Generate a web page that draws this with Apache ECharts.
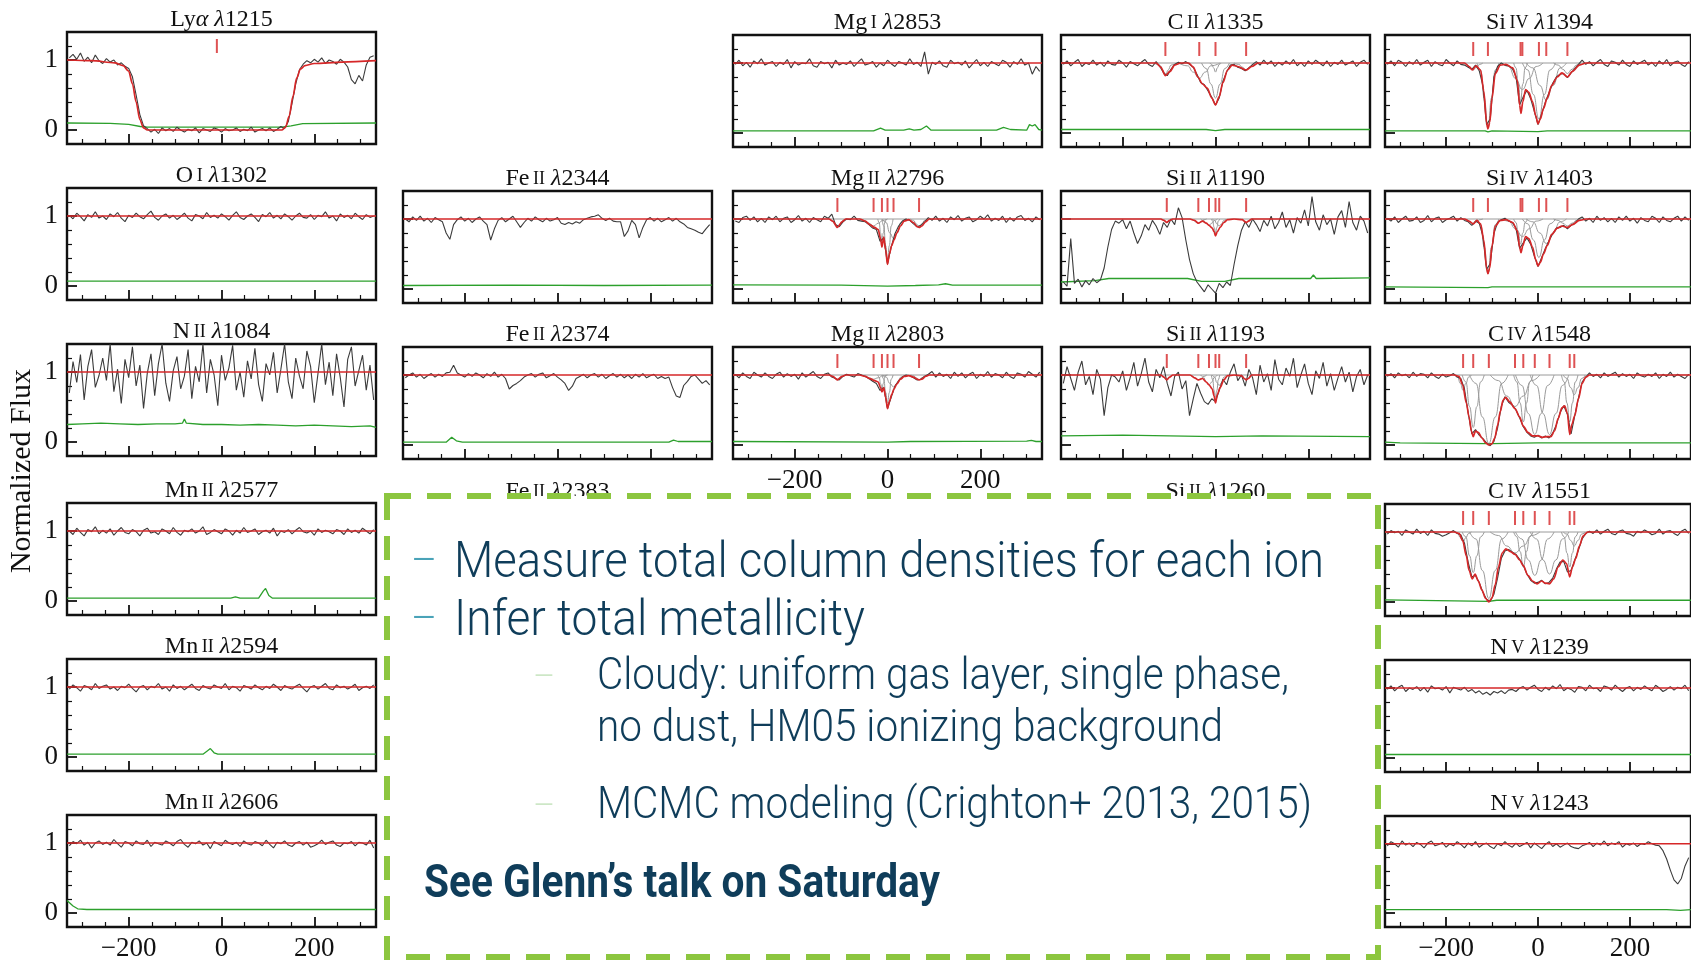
<!DOCTYPE html>
<html>
<head>
<meta charset="utf-8">
<script src="https://cdn.jsdelivr.net/npm/echarts@6/dist/echarts.min.js"></script>
<style>
  html, body { margin: 0; padding: 0; background: #fff; }
  #chart { width: 1691px; height: 962px; }
</style>
</head>
<body>
<div id="chart"></div>
<script>
// Flux samples are stored as normalized flux x 100 on a uniform velocity grid (km/s)
const VEL_START = -328, VEL_STEP = 8;
const V_MIN = -333, V_MAX = 333;
const FLAT = [[-333, 1], [333, 1]];

// ---------- Ly alpha 1215
const lyaFlux = [
  103,108,101,110,98,104,96,107,99,95,
  102,97,100,93,96,91,88,76,50,22,
  6,2,-3,1,-5,3,-1,2,-2,4,
  0,-3,1,-1,3,-4,2,0,-2,3,
  1,-3,2,-1,0,3,-2,1,-1,4,
  -3,0,2,-1,3,-2,1,5,2,12,
  38,66,86,94,99,96,101,97,103,95,
  100,98,94,101,97,90,72,66,78,70,
  93,104,106];
const lyaModel = [[-333,1.0],[-280,0.99],[-230,0.96],[-212,0.92],[-200,0.84],[-192,0.66],[-184,0.4],[-176,0.15],[-168,0.03],[-160,0],[130,0],[138,0.04],[146,0.2],[154,0.48],[162,0.74],[170,0.87],[180,0.92],[200,0.95],[260,0.97],[333,0.99]];
const lyaErr = [[-333,0.1],[-240,0.095],[-200,0.08],[-175,0.05],[-160,0.04],[130,0.04],[150,0.06],[175,0.09],[333,0.1]];
const lyaTicks = [-10];

// ---------- O I 1302
const o1Flux = [
  101,96,104,99,93,102,98,106,97,100,
  95,103,99,105,97,92,101,98,104,99,
  96,102,107,98,94,100,103,97,101,95,
  99,104,97,93,102,100,96,105,98,101,
  97,103,99,94,101,106,98,95,100,103,
  98,92,102,99,105,97,101,96,103,99,
  94,100,104,98,97,102,95,101,99,106,
  97,100,93,103,98,101,96,104,99,95,
  102,98,100];
const o1Err = [[-333,0.07],[0,0.07],[333,0.07]];

// ---------- N II 1084
const n2Flux = [
  70,115,85,125,60,108,132,78,95,120,
  88,140,72,104,55,118,92,136,80,110,
  48,98,126,66,112,140,84,58,102,122,
  76,94,132,62,108,86,140,70,118,96,
  52,124,88,106,138,74,100,64,116,90,
  134,82,58,112,96,128,70,104,140,86,
  62,120,94,76,130,108,56,98,140,82,
  114,66,126,92,50,118,136,80,102,124,
  74,110,60];
const n2Err = [[-333,0.25],[-300,0.26],[-260,0.27],[-220,0.26],[-180,0.25],[-140,0.26],[-100,0.26],[-84,0.27],[-80,0.33],[-76,0.27],[-40,0.25],[0,0.25],[40,0.24],[80,0.25],[120,0.24],[160,0.23],[200,0.24],[240,0.23],[280,0.22],[320,0.23],[333,0.21]];

// ---------- Mn II 2577 / 2594 / 2606
const mn2577Flux = [
  100,95,104,98,93,102,99,106,96,101,
  97,103,94,100,105,98,96,102,99,93,
  101,104,97,99,95,103,100,96,105,98,
  94,101,99,103,97,100,106,95,98,102,
  99,96,103,100,94,101,97,105,98,100,
  103,95,99,101,97,104,93,100,98,102,
  96,101,105,99,97,100,94,103,98,101,
  99,96,102,100,95,103,98,101,97,104,
  100,96,102];
const mn2577Err = [[-333,0.04],[20,0.04],[30,0.06],[40,0.04],[80,0.04],[90,0.14],[95,0.18],[102,0.08],[110,0.04],[333,0.04]];

const mn2594Flux = [
  97,103,99,94,102,100,96,105,98,101,
  103,97,100,95,101,99,104,98,93,100,
  102,96,101,99,105,97,100,94,103,98,
  101,96,100,104,98,95,102,99,97,103,
  100,98,105,96,101,99,94,102,100,97,
  103,99,96,101,98,104,100,95,102,99,
  97,101,104,98,93,100,102,97,101,105,
  98,96,103,99,101,97,100,104,95,99,
  101,98,103];
const mn2594Err = [[-333,0.04],[-40,0.04],[-30,0.09],[-24,0.12],[-16,0.06],[-8,0.04],[333,0.04]];

const mn2606Flux = [
  96,102,99,104,97,101,93,100,103,98,
  101,97,105,99,94,102,100,96,103,99,
  98,104,95,101,99,97,103,100,96,102,
  105,98,94,101,99,103,97,100,92,102,
  99,96,104,100,98,101,95,103,99,97,
  102,100,96,104,98,93,101,99,103,97,
  95,100,102,97,101,94,96,99,104,98,
  101,103,97,95,100,99,102,96,101,100,
  97,104,93];
const mn2606Err = [[-333,0.18],[-320,0.1],[-310,0.06],[-290,0.05],[333,0.05]];

// ---------- Fe II 2344 / 2374
const fe2344Flux = [
  100,96,103,98,104,97,101,95,102,99,
  96,80,71,92,99,103,97,101,95,100,
  103,97,92,70,86,98,102,96,100,104,
  96,88,95,101,97,103,99,96,101,97,
  99,102,94,92,95,93,96,94,99,101,
  103,104,106,101,98,101,97,96,96,75,
  83,98,92,73,88,99,102,97,101,96,
  99,102,97,101,96,93,88,86,84,81,
  79,86,92];
const fe2344Err = [[-333,0.05],[-100,0.055],[100,0.05],[333,0.055]];

const fe2374Flux = [
  96,100,103,97,101,95,99,102,97,101,
  98,103,104,114,103,100,97,102,98,103,
  100,96,102,98,104,97,101,95,80,85,
  88,92,97,100,102,97,101,103,96,99,
  102,97,93,88,78,84,95,98,101,96,
  100,102,97,101,95,99,102,97,101,96,
  100,95,101,97,102,96,99,101,95,98,
  95,97,82,70,68,85,91,98,100,94,
  88,92,86];
const fe2374Err = [[-333,0.04],[-240,0.04],[-228,0.11],[-218,0.06],[-205,0.04],[240,0.04],[250,0.07],[260,0.05],[333,0.05]];

// ---------- Mg I 2853
const mg2853Flux = [
  98,104,96,101,94,103,99,106,97,100,
  102,95,101,98,105,93,102,97,100,99,
  106,96,94,102,99,101,93,104,97,100,
  98,103,95,101,106,97,99,102,94,100,
  96,104,99,95,102,100,97,106,98,101,
  95,116,84,101,98,103,96,94,104,99,
  101,97,103,93,99,105,96,101,95,102,
  99,96,104,101,94,102,98,106,97,100,
  84,95,88];
const mg2853Err = [[-333,0.03],[-30,0.03],[-15,0.07],[-5,0.04],[35,0.04],[47,0.06],[57,0.04],[72,0.05],[84,0.1],[94,0.04],[235,0.04],[250,0.08],[265,0.05],[300,0.04],[306,0.12],[312,0.1],[318,0.12],[326,0.05],[333,0.04]];

// ---------- Mg II 2796 / 2803
const mg2796Flux = [
  97,95,102,104,98,103,96,101,95,103,
  99,104,96,101,103,95,99,105,97,101,
  95,102,99,96,104,101,107,92,89,96,
  100,99,104,98,97,96,92,87,85,68,
  73,36,60,79,90,97,100,98,93,89,
  91,96,102,98,104,97,101,95,103,99,
  105,97,101,103,96,99,104,100,106,97,
  101,98,104,95,102,97,103,105,98,101,
  96,103,99];
const mg2796Model = [[-333,1],[-126,1],[-118,0.97],[-108,0.88],[-98,0.96],[-90,1],[-60,1],[-48,0.97],[-38,0.92],[-28,0.88],[-20,0.85],[-15,0.72],[-12,0.6],[-8,0.74],[-4,0.56],[0,0.35],[4,0.5],[9,0.62],[14,0.7],[20,0.8],[28,0.9],[36,0.97],[46,0.99],[56,0.95],[64,0.89],[68,0.88],[74,0.9],[82,0.96],[90,1],[333,1]];
const mg2796Err = [[-333,0.06],[-100,0.055],[0,0.04],[60,0.05],[110,0.06],[125,0.075],[140,0.055],[333,0.055]];
const mg2796Comps = [
  [[-126,1],[-120,0.98],[-114,0.93],[-108,0.89],[-102,0.93],[-96,0.98],[-90,1]],
  [[-60,1],[-50,0.98],[-40,0.94],[-30,0.9],[-20,0.94],[-10,0.98],[0,1]],
  [[-21,1],[-18,0.95],[-15,0.8],[-12,0.68],[-9,0.8],[-6,0.95],[-3,1]],
  [[-12,1],[-8,0.9],[-4,0.62],[0,0.42],[4,0.62],[8,0.9],[12,1]],
  [[-11,1],[-3,0.95],[5,0.8],[13,0.72],[21,0.8],[29,0.95],[37,1]],
  [[50,1],[56,0.98],[62,0.93],[68,0.89],[74,0.93],[80,0.98],[86,1]]];
const mg2Ticks = [-108, -30, -12, 0, 13, 68];

const mg2803Flux = [
  101,96,103,98,95,104,100,97,103,98,
  95,101,104,97,102,98,101,94,103,97,
  101,105,98,95,101,103,97,95,93,98,
  101,99,97,102,100,98,95,91,88,78,
  82,52,68,84,92,97,100,99,96,93,
  94,98,101,105,97,103,98,101,95,104,
  98,103,96,101,104,95,101,98,105,97,
  102,100,96,104,98,95,103,101,97,105,
  101,97,104];
const mg2803Model = [[-333,1],[-126,1],[-118,0.98],[-108,0.93],[-98,0.98],[-90,1],[-60,1],[-48,0.98],[-38,0.95],[-28,0.92],[-20,0.9],[-15,0.82],[-12,0.76],[-8,0.82],[-4,0.68],[0,0.52],[4,0.62],[9,0.72],[14,0.8],[20,0.87],[28,0.94],[36,0.98],[46,0.99],[56,0.97],[64,0.94],[68,0.93],[74,0.94],[82,0.98],[90,1],[333,1]];
const mg2803Err = [[-333,0.05],[0,0.04],[50,0.05],[300,0.055],[310,0.065],[320,0.05],[333,0.05]];
const mg2803Comps = [
  [[-126,1],[-120,0.99],[-114,0.96],[-108,0.93],[-102,0.96],[-96,0.99],[-90,1]],
  [[-60,1],[-50,0.99],[-40,0.96],[-30,0.94],[-20,0.96],[-10,0.99],[0,1]],
  [[-21,1],[-18,0.97],[-15,0.88],[-12,0.8],[-9,0.88],[-6,0.97],[-3,1]],
  [[-12,1],[-8,0.94],[-4,0.75],[0,0.6],[4,0.75],[8,0.94],[12,1]],
  [[-11,1],[-3,0.97],[5,0.88],[13,0.83],[21,0.88],[29,0.97],[37,1]],
  [[50,1],[56,0.99],[62,0.96],[68,0.93],[74,0.96],[80,0.99],[86,1]]];

// ---------- C II 1335
const c2Flux = [
  98,103,96,101,105,95,100,98,104,97,
  101,95,103,98,97,104,100,94,102,99,
  96,101,105,98,95,102,95,86,82,91,
  98,101,99,102,98,94,84,72,69,60,
  51,40,50,74,87,97,98,94,92,89,
  93,98,102,97,104,98,103,95,101,97,
  103,98,105,96,101,95,103,98,104,100,
  96,103,95,101,98,104,97,100,103,95,
  101,104,98];
const c2Model = [[-333,1],[-128,1],[-118,0.94],[-108,0.82],[-98,0.88],[-88,0.97],[-75,1],[-58,1],[-48,0.94],[-38,0.8],[-28,0.7],[-18,0.64],[-8,0.5],[0,0.4],[8,0.52],[16,0.72],[26,0.9],[36,0.97],[48,0.95],[66,0.9],[78,0.95],[92,1],[333,1]];
const c2Err = [[-333,0.05],[-20,0.05],[0,0.035],[20,0.05],[333,0.05]];
const c2Comps = [
  [[-132,1],[-120,0.97],[-114,0.9],[-108,0.82],[-102,0.9],[-96,0.97],[-84,1]],
  [[-80,1],[-60,0.96],[-48,0.87],[-35,0.78],[-22,0.87],[-10,0.96],[10,1]],
  [[-12,1],[-8,0.98],[-4,0.93],[0,0.87],[4,0.93],[8,0.98],[12,1]],
  [[-30,1],[-20,0.92],[-10,0.7],[0,0.5],[10,0.7],[20,0.92],[30,1]],
  [[40,1],[50,0.98],[58,0.94],[66,0.9],[74,0.94],[82,0.98],[92,1]]];
const c2Ticks = [-108, -35, 0, 66];

// ---------- Si II 1190 / 1193
const si1190Flux = [
  10,4,72,8,14,3,12,6,15,9,
  13,30,60,85,97,94,99,86,97,80,
  65,76,92,84,98,90,78,95,88,100,
  92,116,102,70,42,22,10,3,-4,6,
  0,-6,8,2,10,5,35,62,84,96,
  88,100,92,82,98,90,104,86,95,110,
  88,99,80,102,94,113,90,132,96,84,
  106,92,100,78,103,112,88,125,95,84,
  104,97,80];
const si1190Model = [[-333,1],[-118,1],[-111,0.98],[-105,0.95],[-99,0.98],[-92,1],[-55,1],[-45,0.98],[-37,0.94],[-28,0.97],[-20,0.94],[-14,0.91],[-7,0.87],[-3,0.82],[0,0.76],[4,0.82],[10,0.88],[18,0.95],[26,0.99],[40,1],[58,0.99],[62,0.97],[66,0.95],[71,0.97],[78,1],[333,1]];
const si1190Err = [[-333,0.1],[-260,0.12],[-230,0.15],[-60,0.15],[-30,0.11],[20,0.11],[50,0.15],[205,0.15],[211,0.2],[217,0.15],[333,0.16]];
const si1190Comps = [
  [[-117,1],[-113,0.99],[-109,0.97],[-105,0.95],[-101,0.97],[-97,0.99],[-93,1]],
  [[-55,1],[-49,0.99],[-43,0.96],[-37,0.94],[-31,0.96],[-25,0.99],[-19,1]],
  [[-32,1],[-26,0.98],[-20,0.94],[-14,0.91],[-8,0.94],[-2,0.98],[4,1]],
  [[-9,1],[-6,0.97],[-3,0.88],[0,0.8],[3,0.88],[6,0.97],[9,1]],
  [[-7,1],[-2,0.98],[3,0.93],[8,0.9],[13,0.93],[18,0.98],[23,1]],
  [[54,1],[58,0.99],[62,0.97],[66,0.95],[70,0.97],[74,0.99],[78,1]]];
const si2Ticks = [-105, -37, -14, 0, 8, 66];

const si1193Flux = [
  88,112,95,78,104,120,86,98,72,108,
  94,42,82,100,97,90,106,78,96,118,
  84,102,124,90,76,108,96,112,88,70,
  98,104,80,92,42,66,88,74,62,58,
  66,62,78,94,86,104,116,92,100,84,
  108,96,72,114,90,102,78,122,94,86,
  110,98,124,82,100,116,88,72,106,95,
  118,84,102,78,96,112,90,104,76,98,
  108,86,100];
const si1193Model = [[-333,1],[-118,1],[-111,0.97],[-105,0.93],[-99,0.97],[-92,1],[-55,1],[-45,0.96],[-37,0.93],[-28,0.95],[-20,0.9],[-14,0.86],[-7,0.8],[-3,0.7],[0,0.6],[4,0.72],[10,0.82],[18,0.93],[26,0.99],[40,1],[56,0.99],[62,0.95],[66,0.93],[71,0.95],[78,1],[333,1]];
const si1193Err = [[-333,0.13],[-200,0.14],[-100,0.13],[0,0.12],[100,0.13],[333,0.12]];
const si1193Comps = [
  [[-117,1],[-113,0.98],[-109,0.95],[-105,0.93],[-101,0.95],[-97,0.98],[-93,1]],
  [[-55,1],[-49,0.98],[-43,0.95],[-37,0.93],[-31,0.95],[-25,0.98],[-19,1]],
  [[-32,1],[-26,0.97],[-20,0.9],[-14,0.86],[-8,0.9],[-2,0.97],[4,1]],
  [[-9,1],[-6,0.93],[-3,0.78],[0,0.68],[3,0.78],[6,0.93],[9,1]],
  [[-7,1],[-2,0.97],[3,0.89],[8,0.85],[13,0.89],[18,0.97],[23,1]],
  [[54,1],[58,0.98],[62,0.95],[66,0.93],[70,0.95],[74,0.98],[78,1]]];

// ---------- Si IV 1394 / 1403
const si1394Flux = [
  98,103,96,104,101,95,102,98,105,97,
  101,104,95,102,98,96,105,100,96,103,
  98,97,94,91,97,89,68,12,20,80,
  95,100,97,96,92,81,40,52,61,49,
  31,12,27,44,58,71,80,84,85,79,
  86,92,98,104,98,102,96,101,105,98,
  95,103,101,97,104,98,95,103,98,101,
  104,97,101,95,103,98,105,96,101,103,
  98,95,102];
const si1394Model = [[-333,1],[-160,1],[-150,0.95],[-143,0.9],[-135,0.96],[-125,0.9],[-118,0.6],[-112,0.15],[-109,0.06],[-105,0.15],[-100,0.5],[-93,0.85],[-82,0.97],[-70,0.98],[-55,0.93],[-45,0.75],[-40,0.4],[-37,0.28],[-33,0.45],[-27,0.62],[-20,0.58],[-12,0.45],[-5,0.25],[0,0.13],[5,0.2],[12,0.35],[20,0.5],[30,0.68],[42,0.8],[52,0.86],[64,0.8],[75,0.88],[90,0.97],[105,1],[333,1]];
const si1394Err = [[-333,0.03],[-115,0.03],[-109,0.015],[-100,0.03],[0,0.02],[20,0.03],[333,0.03]];
const si1394Comps = [
  [[-162,1],[-155,0.98],[-148,0.94],[-141,0.9],[-134,0.94],[-127,0.98],[-120,1]],
  [[-133,1],[-125,0.9],[-117,0.5],[-109,0.07],[-101,0.5],[-93,0.9],[-85,1]],
  [[-53,1],[-48,0.93],[-43,0.7],[-38,0.45],[-33,0.7],[-28,0.93],[-23,1]],
  [[-79,1],[-64,0.95],[-49,0.78],[-34,0.62],[-19,0.78],[-4,0.95],[11,1]],
  [[-34,1],[-22,0.9],[-10,0.55],[2,0.2],[14,0.55],[26,0.9],[38,1]],
  [[-26,1],[-11,0.93],[4,0.68],[18,0.47],[33,0.68],[48,0.93],[62,1]],
  [[34,1],[44,0.97],[54,0.91],[64,0.85],[74,0.91],[84,0.97],[94,1]]];
const si4Ticks = [-141, -109, -38, -34, 2, 18, 64];

const si1403Flux = [
  101,97,103,95,100,104,97,98,103,95,
  98,105,96,101,103,95,99,101,104,97,
  102,98,96,91,97,94,76,28,36,79,
  95,99,101,97,95,87,58,66,73,64,
  47,32,45,58,69,79,87,88,91,86,
  91,94,100,103,97,101,95,104,98,102,
  96,101,95,103,98,104,97,101,94,102,
  98,96,104,101,95,103,98,96,101,104,
  97,103,98];
const si1403Model = [[-333,1],[-160,1],[-150,0.97],[-141,0.93],[-133,0.98],[-125,0.93],[-118,0.7],[-112,0.3],[-109,0.22],[-105,0.3],[-100,0.62],[-93,0.9],[-82,0.98],[-70,0.99],[-55,0.95],[-45,0.83],[-40,0.6],[-37,0.52],[-33,0.62],[-27,0.75],[-20,0.72],[-12,0.6],[-5,0.42],[0,0.33],[5,0.38],[12,0.5],[20,0.62],[30,0.78],[42,0.87],[52,0.9],[64,0.88],[75,0.92],[90,0.98],[105,1],[333,1]];
const si1403Err = [[-333,0.03],[-109,0.02],[-100,0.03],[333,0.03]];
const si1403Comps = [
  [[-162,1],[-155,0.99],[-148,0.96],[-141,0.93],[-134,0.96],[-127,0.99],[-120,1]],
  [[-133,1],[-125,0.92],[-117,0.6],[-109,0.22],[-101,0.6],[-93,0.92],[-85,1]],
  [[-53,1],[-48,0.95],[-43,0.8],[-38,0.64],[-33,0.8],[-28,0.95],[-23,1]],
  [[-79,1],[-64,0.97],[-49,0.86],[-34,0.75],[-19,0.86],[-4,0.97],[11,1]],
  [[-34,1],[-22,0.93],[-10,0.7],[2,0.45],[14,0.7],[26,0.93],[38,1]],
  [[-26,1],[-11,0.96],[4,0.8],[18,0.65],[33,0.8],[48,0.96],[62,1]],
  [[34,1],[44,0.98],[54,0.94],[64,0.9],[74,0.94],[84,0.98],[94,1]]];

// ---------- C IV 1548 / 1551
const c1548Flux = [
  98,102,96,103,99,101,96,104,98,102,
  101,96,103,98,95,101,97,99,102,97,
  95,80,46,16,22,14,9,3,-1,5,
  24,55,69,61,57,50,39,26,18,13,
  11,14,10,13,10,17,29,46,56,44,
  16,42,67,90,97,103,98,101,96,103,
  98,101,104,97,102,98,101,95,103,99,
  97,101,98,103,95,101,98,104,97,101,
  98,95,101];
const c1548Model = [[-333,1],[-182,1],[-172,0.98],[-164,0.86],[-156,0.6],[-150,0.4],[-145,0.2],[-141,0.12],[-136,0.2],[-130,0.18],[-122,0.1],[-114,0.03],[-107,0.0],[-100,0.02],[-94,0.1],[-88,0.28],[-82,0.48],[-76,0.64],[-70,0.68],[-62,0.62],[-50,0.52],[-40,0.4],[-32,0.27],[-22,0.18],[-12,0.13],[0,0.13],[10,0.11],[20,0.12],[28,0.12],[36,0.2],[44,0.38],[52,0.53],[58,0.56],[64,0.45],[69,0.15],[74,0.3],[80,0.42],[88,0.66],[96,0.88],[104,0.97],[112,1],[333,1]];
const c1548Err = [[-333,0.04],[-300,0.03],[-110,0.02],[-100,0.02],[0,0.03],[333,0.03]];
const c1548Comps = [
  [[-181,1],[-175,0.97],[-169,0.88],[-163,0.78],[-157,0.88],[-151,0.97],[-145,1]],
  [[-165,1],[-157,0.9],[-149,0.55],[-141,0.25],[-133,0.55],[-125,0.9],[-117,1]],
  [[-149,1],[-135,0.88],[-121,0.4],[-107,0.02],[-93,0.4],[-79,0.88],[-65,1]],
  [[-104,1],[-86,0.92],[-68,0.7],[-50,0.55],[-32,0.7],[-14,0.92],[4,1]],
  [[-53,1],[-46,0.9],[-39,0.6],[-32,0.33],[-25,0.6],[-18,0.9],[-11,1]],
  [[-49,1],[-35,0.85],[-21,0.45],[-7,0.15],[7,0.45],[21,0.85],[35,1]],
  [[-17,1],[-3,0.85],[11,0.45],[25,0.15],[39,0.45],[53,0.85],[67,1]],
  [[51,1],[57,0.9],[63,0.6],[69,0.33],[75,0.6],[81,0.9],[87,1]],
  [[55,1],[63,0.95],[71,0.82],[79,0.72],[87,0.82],[95,0.95],[103,1]]];
const c4Ticks = [-163, -141, -107, -50, -32, -7, 25, 69, 79];

const c1551Flux = [
  97,102,99,101,95,103,100,97,104,98,
  101,95,103,98,97,94,96,99,102,98,
  96,84,57,36,38,28,14,4,1,11,
  34,62,73,75,71,68,61,52,40,31,
  27,28,31,26,28,34,47,57,58,43,
  45,60,74,90,98,101,98,103,97,101,
  104,98,96,101,103,98,97,94,101,99,
  103,100,96,98,104,97,101,102,98,95,
  101,104,98];
const c1551Model = [[-333,1],[-182,1],[-172,0.98],[-164,0.88],[-156,0.66],[-150,0.45],[-143,0.33],[-137,0.4],[-130,0.3],[-122,0.17],[-114,0.05],[-107,0.0],[-100,0.06],[-93,0.25],[-86,0.5],[-78,0.7],[-70,0.76],[-60,0.72],[-50,0.68],[-40,0.6],[-32,0.52],[-22,0.38],[-12,0.3],[-2,0.26],[8,0.3],[16,0.27],[25,0.26],[34,0.33],[44,0.5],[54,0.6],[62,0.55],[69,0.36],[75,0.5],[82,0.62],[90,0.8],[98,0.94],[108,1],[333,1]];
const c1551Err = [[-333,0.03],[-107,0.01],[-90,0.025],[333,0.025]];
const c1551Comps = [
  [[-181,1],[-175,0.98],[-169,0.92],[-163,0.86],[-157,0.92],[-151,0.98],[-145,1]],
  [[-165,1],[-157,0.93],[-149,0.66],[-141,0.42],[-133,0.66],[-125,0.93],[-117,1]],
  [[-149,1],[-135,0.9],[-121,0.45],[-107,0.05],[-93,0.45],[-79,0.9],[-65,1]],
  [[-104,1],[-86,0.95],[-68,0.8],[-50,0.7],[-32,0.8],[-14,0.95],[4,1]],
  [[-53,1],[-46,0.93],[-39,0.72],[-32,0.5],[-25,0.72],[-18,0.93],[-11,1]],
  [[-49,1],[-35,0.9],[-21,0.6],[-7,0.38],[7,0.6],[21,0.9],[35,1]],
  [[-17,1],[-3,0.9],[11,0.6],[25,0.4],[39,0.6],[53,0.9],[67,1]],
  [[51,1],[57,0.93],[63,0.7],[69,0.5],[75,0.7],[81,0.93],[87,1]],
  [[55,1],[63,0.97],[71,0.88],[79,0.8],[87,0.88],[95,0.97],[103,1]]];

// ---------- N V 1239 / 1243
const n1239Flux = [
  98,103,96,101,104,95,100,98,102,96,
  101,94,103,99,100,97,102,93,101,99,
  97,101,95,98,93,96,91,94,90,95,
  93,96,92,97,98,95,100,102,97,101,
  104,98,95,101,97,103,99,105,96,100,
  98,94,102,101,96,104,99,100,95,103,
  101,97,104,99,95,100,102,96,101,98,
  103,99,96,104,100,95,98,102,97,101,
  99,104,96];
const n1239Err = [[-333,0.05],[333,0.05]];

const n1243Flux = [
  97,103,100,95,104,98,101,96,102,99,
  94,101,104,97,99,102,95,100,97,103,
  99,94,101,97,103,95,99,101,96,93,
  100,97,103,98,95,101,96,99,102,94,
  101,97,93,99,103,96,100,95,98,101,
  96,94,93,97,99,102,96,101,98,104,
  97,101,99,103,95,100,98,101,96,100,
  99,103,100,98,97,90,78,62,48,42,
  50,68,80];
const n1243Err = [[-333,0.05],[280,0.05],[310,0.04],[333,0.05]];

// axis ticks
const X_MINOR = [-300, -250, -150, -100, -50, 50, 100, 150, 250, 300];
const X_MAJOR = [-200, 0, 200];
const Y_MINOR = [0.2, 0.4, 0.6, 0.8, 1.2];
const Y_MAJOR = [0, 1];

// panel layout: column left edges and row tops (px)
const COL_LEFT = [67, 403, 733, 1061, 1385];
const ROW_TOP = [[32, 188, 344, 503, 659, 815], [35, 191, 347, 504, 660, 816]];
const BOX_W = 309, BOX_H = 112;

const PANELS = [
  {title: '{n|Ly}{i|α}{n| }{i|λ}{n|1215}', col: 0, row: 0, flux: lyaFlux, model: lyaModel, err: lyaErr, ticks: lyaTicks},
  {title: '{n|O}{s|\u2009I}{n| }{i|λ}{n|1302}', col: 0, row: 1, flux: o1Flux, model: FLAT, err: o1Err},
  {title: '{n|N}{s|\u2009II}{n| }{i|λ}{n|1084}', col: 0, row: 2, flux: n2Flux, model: FLAT, err: n2Err},
  {title: '{n|Mn}{s|\u2009II}{n| }{i|λ}{n|2577}', col: 0, row: 3, flux: mn2577Flux, model: FLAT, err: mn2577Err},
  {title: '{n|Mn}{s|\u2009II}{n| }{i|λ}{n|2594}', col: 0, row: 4, flux: mn2594Flux, model: FLAT, err: mn2594Err},
  {title: '{n|Mn}{s|\u2009II}{n| }{i|λ}{n|2606}', col: 0, row: 5, flux: mn2606Flux, model: FLAT, err: mn2606Err, xLabels: true},
  {title: '{n|Fe}{s|\u2009II}{n| }{i|λ}{n|2344}', col: 1, row: 1, flux: fe2344Flux, model: FLAT, err: fe2344Err},
  {title: '{n|Fe}{s|\u2009II}{n| }{i|λ}{n|2374}', col: 1, row: 2, flux: fe2374Flux, model: FLAT, err: fe2374Err},
  {title: '{n|Mg}{s|\u2009I}{n| }{i|λ}{n|2853}', col: 2, row: 0, flux: mg2853Flux, model: FLAT, err: mg2853Err},
  {title: '{n|Mg}{s|\u2009II}{n| }{i|λ}{n|2796}', col: 2, row: 1, flux: mg2796Flux, model: mg2796Model, err: mg2796Err, comps: mg2796Comps, ticks: mg2Ticks},
  {title: '{n|Mg}{s|\u2009II}{n| }{i|λ}{n|2803}', col: 2, row: 2, flux: mg2803Flux, model: mg2803Model, err: mg2803Err, comps: mg2803Comps, ticks: mg2Ticks, xLabels: true},
  {title: '{n|C}{s|\u2009II}{n| }{i|λ}{n|1335}', col: 3, row: 0, flux: c2Flux, model: c2Model, err: c2Err, comps: c2Comps, ticks: c2Ticks},
  {title: '{n|Si}{s|\u2009II}{n| }{i|λ}{n|1190}', col: 3, row: 1, flux: si1190Flux, model: si1190Model, err: si1190Err, comps: si1190Comps, ticks: si2Ticks},
  {title: '{n|Si}{s|\u2009II}{n| }{i|λ}{n|1193}', col: 3, row: 2, flux: si1193Flux, model: si1193Model, err: si1193Err, comps: si1193Comps, ticks: si2Ticks},
  {title: '{n|Si}{s|\u2009IV}{n| }{i|λ}{n|1394}', col: 4, row: 0, flux: si1394Flux, model: si1394Model, err: si1394Err, comps: si1394Comps, ticks: si4Ticks},
  {title: '{n|Si}{s|\u2009IV}{n| }{i|λ}{n|1403}', col: 4, row: 1, flux: si1403Flux, model: si1403Model, err: si1403Err, comps: si1403Comps, ticks: si4Ticks},
  {title: '{n|C}{s|\u2009IV}{n| }{i|λ}{n|1548}', col: 4, row: 2, flux: c1548Flux, model: c1548Model, err: c1548Err, comps: c1548Comps, ticks: c4Ticks},
  {title: '{n|C}{s|\u2009IV}{n| }{i|λ}{n|1551}', col: 4, row: 3, flux: c1551Flux, model: c1551Model, err: c1551Err, comps: c1551Comps, ticks: c4Ticks},
  {title: '{n|N}{s|\u2009V}{n| }{i|λ}{n|1239}', col: 4, row: 4, flux: n1239Flux, model: FLAT, err: n1239Err},
  {title: '{n|N}{s|\u2009V}{n| }{i|λ}{n|1243}', col: 4, row: 5, flux: n1243Flux, model: FLAT, err: n1243Err, xLabels: true}
];
// panels hidden behind the summary box; only their titles peek out
const HIDDEN_TITLES = [
  {title: '{n|Fe}{s|\u2009II}{n| }{i|λ}{n|2383}', col: 1, row: 3},
  {title: '{n|Si}{s|\u2009II}{n| }{i|λ}{n|1260}', col: 3, row: 3}
];

const SERIF = 'Liberation Serif';
const C_DATA = '#3b3b3b', C_MODEL = '#d62728', C_ERR = '#2ca02c', C_COMP = '#9a9a9a';

const TITLE_RICH = {
  n: {fontFamily: SERIF, fontSize: 24, fill: '#111', color: '#111'},
  s: {fontFamily: SERIF, fontSize: 18, fill: '#111', color: '#111'},
  i: {fontFamily: SERIF, fontSize: 24, fontStyle: 'italic', fill: '#111', color: '#111'}
};

const minusFmt = v => (v < 0 ? '\u2212' + Math.abs(v) : String(v));

const grids = [], xAxes = [], yAxes = [], series = [], graphics = [];

function panelTop(col, row) { return ROW_TOP[col === 0 ? 0 : 1][row]; }

PANELS.forEach((p, k) => {
  const left = COL_LEFT[p.col], top = panelTop(p.col, p.row);
  grids.push({left, top, width: BOX_W, height: BOX_H, show: true,
    borderColor: '#111', borderWidth: 2.4, backgroundColor: 'transparent'});

  const axisBase = {gridIndex: k, type: 'value', splitLine: {show: false},
    axisLine: {show: false, onZero: false}};
  xAxes.push(Object.assign({}, axisBase, {min: V_MIN, max: V_MAX, position: 'bottom',
    axisLabel: {show: false},
    axisTick: {show: true, inside: true, length: 5, customValues: X_MINOR, lineStyle: {color: '#111', width: 1.2}}}));
  xAxes.push(Object.assign({}, axisBase, {min: V_MIN, max: V_MAX, position: 'bottom',
    axisLabel: {show: !!p.xLabels, customValues: X_MAJOR, margin: 8, fontFamily: SERIF, fontSize: 27, color: '#111', formatter: minusFmt},
    axisTick: {show: true, inside: true, length: 10, customValues: X_MAJOR, lineStyle: {color: '#111', width: 1.8}}}));
  yAxes.push(Object.assign({}, axisBase, {min: -0.2, max: 1.4, position: 'left',
    axisLabel: {show: false},
    axisTick: {show: true, inside: true, length: 5, customValues: Y_MINOR, lineStyle: {color: '#111', width: 1.2}}}));
  yAxes.push(Object.assign({}, axisBase, {min: -0.2, max: 1.4, position: 'left',
    axisLabel: {show: p.col === 0, customValues: Y_MAJOR, margin: 9, fontFamily: SERIF, fontSize: 27, color: '#111'},
    axisTick: {show: true, inside: true, length: 10, customValues: Y_MAJOR, lineStyle: {color: '#111', width: 1.8}}}));

  const ax = {xAxisIndex: 2 * k, yAxisIndex: 2 * k};
  const lineBase = Object.assign({type: 'line', showSymbol: false, symbol: 'none', silent: true, animation: false}, ax);

  series.push(Object.assign({}, lineBase, {data: p.err, z: 2,
    lineStyle: {color: C_ERR, width: 1.3}}));
  if (p.comps) {
    series.push(Object.assign({}, lineBase, {data: FLAT, z: 3, lineStyle: {color: C_COMP, width: 1}}));
    p.comps.forEach(c => series.push(Object.assign({}, lineBase, {data: c, z: 3,
      smooth: 0.5, smoothMonotone: 'x', lineStyle: {color: C_COMP, width: 1}})));
  }
  series.push(Object.assign({}, lineBase, {
    data: p.flux.map((f, i) => [VEL_START + VEL_STEP * i, f / 100]),
    z: 4, lineStyle: {color: C_DATA, width: 1.1}}));
  series.push(Object.assign({}, lineBase, {data: p.model, z: 5,
    smooth: 0.3, smoothMonotone: 'x', lineStyle: {color: C_MODEL, width: 1.7}}));
  if (p.ticks) {
    series.push(Object.assign({type: 'scatter', silent: true, animation: false, z: 6,
      symbol: 'rect', symbolSize: [2, 14], itemStyle: {color: C_MODEL}}, ax,
      {data: p.ticks.map(v => [v, 1.2])}));
  }

  graphics.push({type: 'text', z: 10, x: left + BOX_W / 2, y: top - 12,
    style: {text: p.title, rich: TITLE_RICH, align: 'center', verticalAlign: 'middle',
      textAlign: 'center', textVerticalAlign: 'middle', fill: '#111'}});
});

HIDDEN_TITLES.forEach(h => {
  graphics.push({type: 'text', z: 10, x: COL_LEFT[h.col] + BOX_W / 2, y: panelTop(h.col, h.row) - 12,
    style: {text: h.title, rich: TITLE_RICH, align: 'center', verticalAlign: 'middle',
      textAlign: 'center', textVerticalAlign: 'middle', fill: '#111'}});
});

// shared y-axis name
graphics.push({type: 'text', z: 10, x: 22, y: 471, rotation: Math.PI / 2,
  style: {text: 'Normalized Flux', font: '30px "Liberation Serif"', fill: '#111',
    align: 'center', verticalAlign: 'middle', textAlign: 'center', textVerticalAlign: 'middle'}});

// summary box drawn over the lower middle panels
graphics.push({type: 'rect', z: 100, shape: {x: 387, y: 496, width: 991, height: 461},
  style: {fill: '#ffffff', stroke: '#8cc63f', lineWidth: 6, lineDash: [24, 16]}});

const TEXT_BLUE = '#0f3d5a';
const BOX_TEXT = [
  {text: '\u2013', font: '300 40px Roboto', x: 411, y: 564, color: '#4aa3b8'},
  {text: 'Measure total column densities for each ion', font: '300 50px Roboto', x: 454, y: 564, w: 870, color: TEXT_BLUE},
  {text: '\u2013', font: '300 40px Roboto', x: 411, y: 622, color: '#4aa3b8'},
  {text: 'Infer total metallicity', font: '300 50px Roboto', x: 454, y: 622, w: 411, color: TEXT_BLUE},
  {text: '\u2013', font: '300 34px Roboto', x: 533, y: 678, color: '#cde7c6'},
  {text: 'Cloudy: uniform gas layer, single phase,', font: '300 45px Roboto', x: 597, y: 678, w: 692, color: TEXT_BLUE},
  {text: 'no dust, HM05 ionizing background', font: '300 45px Roboto', x: 597, y: 730, w: 626, color: TEXT_BLUE},
  {text: '\u2013', font: '300 34px Roboto', x: 533, y: 807, color: '#cde7c6'},
  {text: 'MCMC modeling (Crighton+ 2013, 2015)', font: '300 45px Roboto', x: 597, y: 807, w: 715, color: TEXT_BLUE},
  {text: 'See Glenn\u2019s talk on Saturday', font: '700 46px Roboto', x: 424, y: 885, w: 516, color: TEXT_BLUE}
];

const measureCtx = document.createElement('canvas').getContext('2d');
BOX_TEXT.forEach(t => {
  let sx = 1;
  if (t.w) {
    measureCtx.font = t.font;
    sx = t.w / measureCtx.measureText(t.text).width;
  }
  graphics.push({type: 'text', z: 101, x: t.x, y: t.y, scaleX: sx, scaleY: 1,
    style: {text: t.text, font: t.font, fill: t.color, align: 'left', verticalAlign: 'middle',
      textAlign: 'left', textVerticalAlign: 'middle'}});
});

const chart = echarts.init(document.getElementById('chart'), null, {renderer: 'canvas'});
chart.setOption({
  animation: false,
  backgroundColor: '#ffffff',
  grid: grids,
  xAxis: xAxes,
  yAxis: yAxes,
  series: series,
  graphic: {elements: graphics}
});
</script>
</body>
</html>
